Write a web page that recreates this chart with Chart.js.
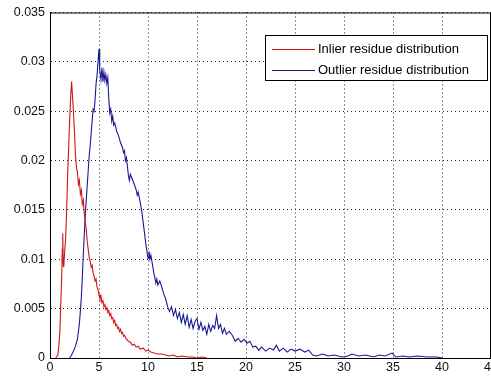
<!DOCTYPE html>
<html>
<head>
<meta charset="utf-8">
<script src="https://cdn.jsdelivr.net/npm/chart.js@4"></script>
<style>
  html, body { margin: 0; padding: 0; background: #fff; overflow: hidden; }
  #wrap { width: 491px; height: 379px; overflow: hidden; }
  canvas { display: block; }
</style>
</head>
<body>
<div id="wrap"><canvas id="c" width="520" height="379"></canvas></div>
<script>
// Residue histograms (normalised), x = residue, y = frequency
const inlierX = [0.6,0.8,0.9,1.0,1.1,1.2,1.25,1.3,1.35,1.4,1.5,1.6,1.7,1.8,1.9,2.0,2.1,2.2,2.3,2.4,2.5,2.6,2.7,2.8,2.9,3.0,3.1,3.2,3.3,3.4,3.5,3.6,3.7,3.8,3.9,4.0,4.1,4.2,4.3,4.4,4.5,4.6,4.7,4.8,4.9,5.0,5.1,5.2,5.3,5.4,5.5,5.6,5.7,5.8,5.9,6.0,6.1,6.2,6.3,6.4,6.5,6.6,6.7,6.8,6.9,7.0,7.1,7.2,7.3,7.4,7.5,7.6,7.8,8.0,8.2,8.4,8.6,8.8,9.0,9.2,9.5,9.8,10.0,10.3,10.6,11.0,11.4,11.8,12.2,12.6,13.0,13.5,14.0,14.5,15.0,15.5,16.0];
const inlierY = [0,0.0003,0.0012,0.0025,0.0055,0.0085,0.0110,0.0126,0.0095,0.0092,0.0108,0.0122,0.0150,0.0185,0.0212,0.0240,0.0262,0.0280,0.0265,0.0248,0.0228,0.0205,0.0193,0.0188,0.0176,0.0180,0.0166,0.0170,0.0156,0.0160,0.0146,0.0138,0.0130,0.0118,0.0110,0.0102,0.0098,0.0092,0.0094,0.0086,0.0083,0.0078,0.0080,0.0072,0.0069,0.0064,0.0060,0.0063,0.0056,0.0058,0.0052,0.0054,0.0049,0.0051,0.0046,0.0048,0.0043,0.0045,0.0040,0.0041,0.0036,0.0038,0.0033,0.0034,0.0030,0.0031,0.0027,0.0029,0.0025,0.0026,0.0022,0.0023,0.0019,0.0017,0.0016,0.0013,0.0014,0.0011,0.0012,0.0009,0.0010,0.0007,0.0008,0.0006,0.0005,0.0004,0.0004,0.0003,0.0002,0.0003,0.0001,0.0002,0.0001,0.0001,0.0000,0.0001,0];

const outlierX = [2.0,2.2,2.4,2.6,2.8,3.0,3.1,3.2,3.3,3.4,3.5,3.6,3.7,3.8,3.9,4.0,4.1,4.2,4.3,4.4,4.5,4.6,4.7,4.8,4.9,5.0,5.05,5.1,5.2,5.3,5.4,5.5,5.6,5.7,5.8,5.9,6.0,6.1,6.2,6.3,6.4,6.5,6.6,6.8,7.0,7.2,7.4,7.5,7.6,7.7,7.8,7.9,8.0,8.1,8.2,8.4,8.6,8.8,8.9,9.0,9.2,9.4,9.6,9.8,10.0,10.1,10.2,10.3,10.4,10.6,10.8,10.9,11.0,11.2,11.4,11.6,11.8,12.0,12.2,12.4,12.6,12.8,13.0,13.2,13.4,13.6,13.8,14.0,14.2,14.4,14.6,14.8,15.0,15.2,15.4,15.6,15.8,16.0,16.2,16.4,16.6,16.8,17.0,17.2,17.4,17.6,17.8,18.0,18.3,18.6,18.9,19.2,19.5,19.8,20.1,20.4,20.7,21.0,21.3,21.6,22.0,22.4,22.8,23.1,23.4,23.8,24.2,24.6,25.0,25.5,26.0,26.4,26.8,27.2,27.8,28.4,29.0,29.8,30.4,30.8,31.5,32.2,33.0,33.6,34.2,34.9,35.3,36.0,36.6,37.5,38.5,39.5,40.0];
const outlierY = [0,0.0003,0.0007,0.0012,0.0019,0.0035,0.0048,0.0062,0.0082,0.0105,0.0125,0.0145,0.0160,0.0175,0.0190,0.0205,0.0215,0.0228,0.0240,0.0252,0.0250,0.0262,0.0278,0.0286,0.0300,0.0313,0.0300,0.0292,0.0282,0.0294,0.0280,0.0290,0.0281,0.0287,0.0278,0.0284,0.0262,0.0248,0.0252,0.0240,0.0245,0.0236,0.0238,0.0230,0.0225,0.0218,0.0213,0.0208,0.0210,0.0200,0.0203,0.0194,0.0185,0.0180,0.0186,0.0181,0.0176,0.0170,0.0165,0.0168,0.0158,0.0146,0.0130,0.0114,0.0101,0.0108,0.0100,0.0104,0.0098,0.0086,0.0076,0.0080,0.0074,0.0078,0.0072,0.0065,0.0060,0.0052,0.0047,0.0052,0.0043,0.0049,0.0040,0.0046,0.0036,0.0044,0.0034,0.0043,0.0031,0.0039,0.0030,0.0037,0.0040,0.0029,0.0036,0.0028,0.0032,0.0024,0.0034,0.0027,0.0033,0.0030,0.0043,0.0030,0.0034,0.0025,0.0030,0.0024,0.0027,0.0023,0.0017,0.0020,0.0016,0.0019,0.0015,0.0017,0.0011,0.0012,0.0008,0.0011,0.0007,0.0010,0.0008,0.0013,0.0007,0.0010,0.0006,0.0009,0.0007,0.0009,0.0006,0.0008,0.0003,0.0002,0.0004,0.0002,0.0003,0.0001,0.0002,0.0004,0.0002,0.0003,0.0001,0.0003,0.0002,0.0005,0.0001,0.0002,0.0001,0.0002,0.0001,0.0001,0];

const seriesNames = ['Inlier residue distribution', 'Outlier residue distribution'];
const xTicks = { min: 0, max: 45, step: 5 };
const yTicks = { min: 0, max: 0.035, step: 0.005 };

const FONT = 'Liberation Sans, Arial, sans-serif';

function pts(xs, ys) { return xs.map((x, i) => ({ x, y: ys[i] })); }

// axes box (top/right solid lines) and the boxed legend
const framePlugin = {
  id: 'frame',
  afterDatasetsDraw(chart) {
    const { ctx, chartArea: a } = chart;
    ctx.save();
    ctx.strokeStyle = '#000';
    ctx.lineWidth = 1;
    ctx.beginPath();
    ctx.moveTo(a.left, a.top + 0.5);
    ctx.lineTo(a.right, a.top + 0.5);
    ctx.moveTo(a.right - 0.5, a.top);
    ctx.lineTo(a.right - 0.5, a.bottom);
    ctx.stroke();

    // legend
    const bx = 265.5, by = 35.5, bw = 222, bh = 45;
    ctx.fillStyle = '#fff';
    ctx.fillRect(bx, by, bw, bh);
    ctx.strokeRect(bx, by, bw, bh);
    ctx.font = '13px ' + FONT;
    ctx.textBaseline = 'middle';
    ctx.textAlign = 'left';
    chart.data.datasets.forEach((ds, i) => {
      const y = Math.round(by + 13 + i * 21) + 0.5;
      ctx.strokeStyle = ds.borderColor;
      ctx.beginPath();
      ctx.moveTo(272, y);
      ctx.lineTo(315, y);
      ctx.stroke();
      ctx.fillStyle = '#000';
      ctx.fillText(ds.label, 318, y);
    });
    ctx.restore();
  }
};

new Chart(document.getElementById('c'), {
  type: 'line',
  data: {
    datasets: [
      { label: seriesNames[0], data: pts(inlierX, inlierY), borderColor: 'rgb(210,20,20)', borderWidth: 1.1, pointRadius: 0, tension: 0, fill: false },
      { label: seriesNames[1], data: pts(outlierX, outlierY), borderColor: 'rgb(25,25,150)', borderWidth: 1.1, pointRadius: 0, tension: 0, fill: false }
    ]
  },
  options: {
    responsive: false,
    animation: false,
    layout: { padding: { top: 12, right: 29, left: 0, bottom: 0 } },
    plugins: { legend: { display: false }, tooltip: { enabled: false } },
    scales: {
      x: {
        type: 'linear',
        min: xTicks.min, max: xTicks.max,
        afterFit(s) { s.height = 21; },
        ticks: { stepSize: xTicks.step, color: '#111', font: { family: FONT, size: 12.5 }, padding: 2, maxRotation: 0 },
        grid: { color: '#222', lineWidth: 1, drawTicks: false },
        border: { display: true, color: '#000', width: 1, dash: [1, 3] }
      },
      y: {
        min: yTicks.min, max: yTicks.max,
        afterFit(s) { s.width = 50; },
        ticks: {
          stepSize: yTicks.step, color: '#111', font: { family: FONT, size: 12.5 }, padding: 5,
          callback: v => String(Number(v.toFixed(3)))
        },
        grid: { color: '#222', lineWidth: 1, drawTicks: false },
        border: { display: true, color: '#000', width: 1, dash: [1, 3] }
      }
    }
  },
  plugins: [framePlugin]
});
</script>
</body>
</html>
